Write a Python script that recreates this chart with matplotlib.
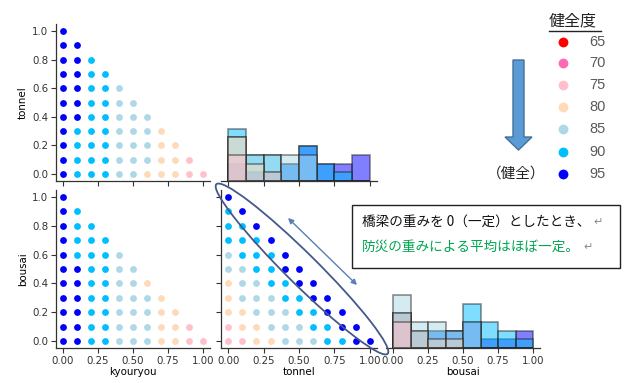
import numpy as np
import matplotlib
matplotlib.use("Agg")
import matplotlib.pyplot as plt
from matplotlib.patches import Ellipse, FancyArrow, Rectangle

# ---------------- data ----------------
weight_levels = [0.0, 0.1, 0.2, 0.3, 0.4, 0.5, 0.6, 0.7, 0.8, 0.9, 1.0]
# health score for each (tonnel level -> row, kyouryou level -> column)
health_rows = [
    [95, 90, 90, 90, 85, 85, 80, 80, 80, 75, 75],  # tonnel 0.0
    [95, 90, 90, 90, 85, 85, 85, 80, 80, 75],      # tonnel 0.1
    [95, 90, 90, 90, 85, 85, 85, 80, 80],          # tonnel 0.2
    [95, 90, 90, 90, 85, 85, 85, 80],              # tonnel 0.3
    [95, 95, 90, 90, 85, 85, 85],                  # tonnel 0.4
    [95, 95, 90, 90, 85, 85],                      # tonnel 0.5
    [95, 95, 90, 90, 85],                          # tonnel 0.6
    [95, 95, 90, 90],                              # tonnel 0.7
    [95, 95, 90],                                  # tonnel 0.8
    [95, 95],                                      # tonnel 0.9
    [95],                                          # tonnel 1.0
]
hue_levels = [65, 70, 75, 80, 85, 90, 95]
hue_colors = ["red", "hotpink", "pink", "peachpuff", "lightblue", "deepskyblue", "blue"]
tick_vals_x = [0.0, 0.25, 0.5, 0.75, 1.0]
tick_vals_y = [0.0, 0.2, 0.4, 0.6, 0.8, 1.0]

kyouryou, tonnel, bousai, score = [], [], [], []
for i, row in enumerate(health_rows):
    for j, s in enumerate(row):
        k = weight_levels[j]
        t = weight_levels[i]
        kyouryou.append(k)
        tonnel.append(t)
        bousai.append(round(1.0 - k - t, 1))
        score.append(s)
kyouryou = np.array(kyouryou); tonnel = np.array(tonnel)
bousai = np.array(bousai); score = np.array(score)
cmap = dict(zip(hue_levels, hue_colors))

# ---------------- figure ----------------
W, H = 624, 383
fig = plt.figure(figsize=(W / 100, H / 100), dpi=100)
fig.patch.set_facecolor("white")

def ax_px(left, right, top, bottom):
    return fig.add_axes([left / W, (H - bottom) / H, (right - left) / W, (bottom - top) / H])

TFS = 7.4
def style(ax):
    for sp in ["top", "right"]:
        ax.spines[sp].set_visible(False)
    for sp in ["left", "bottom"]:
        ax.spines[sp].set_color("#333333")
        ax.spines[sp].set_linewidth(0.9)
    ax.tick_params(labelsize=TFS, length=3.5, width=0.8, colors="#333333", pad=2)

ax_tl = ax_px(56, 210, 23.8, 181.2)
ax_bl = ax_px(56, 210, 189.8, 348.2)
ax_bm = ax_px(221, 377, 189.8, 348.2)
ax_tm = ax_px(221, 377, 23.8, 181.2)
ax_br = ax_px(386, 540, 189.8, 348.2)

def scatter(ax, x, y):
    for lvl in hue_levels:
        m = score == lvl
        if m.any():
            ax.scatter(x[m], y[m], s=24, color=cmap[lvl], linewidths=0)
    ax.set_xlim(-0.05, 1.05)
    ax.set_ylim(-0.05, 1.05)
    ax.set_xticks(tick_vals_x)
    ax.set_yticks(tick_vals_y)
    style(ax)

scatter(ax_tl, kyouryou, tonnel)
ax_tl.set_xticklabels([])
ax_tl.set_ylabel("tonnel", fontsize=TFS, labelpad=3)

scatter(ax_bl, kyouryou, bousai)
ax_bl.set_xlabel("kyouryou", fontsize=TFS, labelpad=1)
ax_bl.set_ylabel("bousai", fontsize=TFS, labelpad=3)

scatter(ax_bm, tonnel, bousai)
ax_bm.set_yticklabels([])
ax_bm.set_xlabel("tonnel", fontsize=TFS, labelpad=1)

bins = np.linspace(0, 1, 9)
def hist(ax, values):
    for lvl in reversed(hue_levels):
        m = score == lvl
        if m.any():
            ax.hist(values[m], bins=bins, color=cmap[lvl], alpha=0.5,
                    edgecolor="#222222", linewidth=1.2)
    for p in ax.patches:
        p.set_edgecolor((0.13, 0.13, 0.13, 1.0))
    ax.set_xlim(-0.05, 1.05)
    ax.set_ylim(0, 18)
    ax.set_xticks(tick_vals_x)
    style(ax)
    ax.spines["left"].set_visible(False)
    ax.set_yticks([])

hist(ax_tm, tonnel)
ax_tm.set_xticklabels([])
hist(ax_br, bousai)
ax_br.set_xlabel("bousai", fontsize=TFS, labelpad=1)

# ---------------- overlay (pixel coordinates) ----------------
ov = fig.add_axes([0, 0, 1, 1], facecolor="none")
ov.set_xlim(0, W)
ov.set_ylim(H, 0)
ov.axis("off")

JP = ["Noto Sans CJK JP", "DejaVu Sans"]

# ellipse around the diagonal
ov.add_patch(Ellipse((302, 269), width=241, height=31, angle=44.7,
                     fill=False, edgecolor="#44598a", linewidth=1.3))
# double-headed arrow
ov.annotate("", xy=(357, 285), xytext=(288, 218),
            arrowprops=dict(arrowstyle="<|-|>", color="#5a7fb8", lw=1.0,
                            mutation_scale=8, shrinkA=0, shrinkB=0))

# text box
ov.add_patch(Rectangle((352, 205), 268, 63, fill=False, edgecolor="#222222", linewidth=1.0))
t1 = ov.text(362, 222, "橋梁の重みを 0（一定）としたとき、", fontsize=9.8, family=JP,
             color="#111111", va="center", ha="left")
t2 = ov.text(362, 247, "防災の重みによる平均はほぼ一定。", fontsize=9.8, family=JP,
             color="#00a650", va="center", ha="left")
fig.canvas.draw()
r = fig.canvas.get_renderer()
inv = ov.transData.inverted()
for t, y in [(t1, 222), (t2, 247)]:
    bb = t.get_window_extent(r)
    x_end = inv.transform((bb.x1, bb.y0))[0]
    ov.text(x_end + 3, y, "↵", fontsize=8, family=["DejaVu Sans"], color="#8a8a8a",
            va="center", ha="left")

# legend
ov.text(549, 21, "健全度", fontsize=11.5, family=JP, color="#222222", va="center", ha="left")
ov.plot([549, 601], [31, 31], color="#222222", lw=1.0)
leg_y = [42, 63, 85, 107, 129, 152, 174]
for lvl, col, y in zip(hue_levels, hue_colors, leg_y):
    ov.scatter([563], [y], s=50, color=col, linewidths=0)
    ov.text(589, y, str(lvl), fontsize=10.5, family=["Liberation Sans Narrow", "Liberation Sans"],
            color="#595959", va="center", ha="left")

# block arrow
ov.add_patch(FancyArrow(518.5, 60, 0, 90, width=11, head_width=27, head_length=13,
                        length_includes_head=True, facecolor="#5b9bd5",
                        edgecolor="#41719c", linewidth=1.0))
ov.text(516, 174, "（健全）", fontsize=10.5, family=JP, color="#222222", va="center", ha="center")

fig.savefig("out.png", dpi=100, facecolor="white")
